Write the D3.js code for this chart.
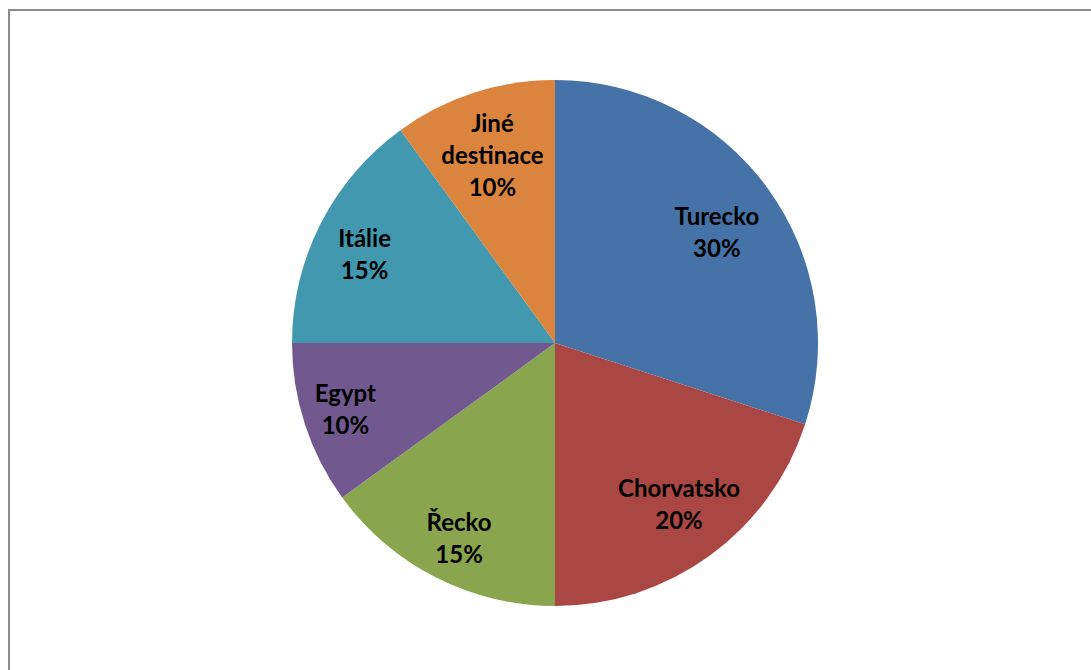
<!DOCTYPE html>
<html>
<head>
<meta charset="utf-8">
<script src="https://cdn.jsdelivr.net/npm/d3@7"></script>
<style>
  body { margin: 0; background: #fff; }
  svg text { font-family: Lato, "Open Sans", sans-serif; font-weight: bold; }
</style>
</head>
<body>
<div id="chart"></div>
<script>
(function () {
  const width = 1091, height = 670;

  // data
  const destinations = ["Turecko", "Chorvatsko", "Řecko", "Egypt", "Itálie", "Jiné destinace"];
  const shares = [30, 20, 15, 10, 15, 10];
  const colors = ["#4572A7", "#AA4643", "#89A54E", "#71588F", "#4198AF", "#DB843D"];

  const cx = 555, cy = 343, radius = 263;

  const svg = d3.select("#chart")
    .append("svg")
    .attr("width", width)
    .attr("height", height);

  // chart frame (runs past the page on right and bottom)
  svg.append("rect")
    .attr("x", 9)
    .attr("y", 10)
    .attr("width", width + 20)
    .attr("height", height + 20)
    .attr("fill", "none")
    .attr("stroke", "#8c8c8c")
    .attr("stroke-width", 2);

  const data = destinations.map((d, i) => ({ name: d, value: shares[i], color: colors[i] }));

  const pie = d3.pie().sort(null).value(d => d.value);
  const arc = d3.arc().innerRadius(0).outerRadius(radius);
  const labelArc = d3.arc().innerRadius(radius * 0.77).outerRadius(radius * 0.77);

  const g = svg.append("g").attr("transform", "translate(" + cx + "," + cy + ")");

  const arcs = pie(data);

  g.selectAll("path")
    .data(arcs)
    .join("path")
    .attr("d", arc)
    .attr("fill", d => d.data.color);

  // excel "best fit" nudges
  const nudge = {
    "Turecko": [-2, 9],
    "Chorvatsko": [5, -2],
    "Řecko": [-4, 15],
    "Egypt": [-17, 4],
    "Itálie": [-10, 4],
    "Jiné destinace": [0, 5]
  };

  const lineH = 32;
  const labels = g.selectAll("g.label")
    .data(arcs)
    .join("g")
    .attr("class", "label")
    .attr("transform", d => {
      const c = labelArc.centroid(d);
      const n = nudge[d.data.name] || [0, 0];
      return "translate(" + (c[0] + n[0]) + "," + (c[1] + n[1]) + ")";
    });

  labels.each(function (d) {
    const words = d.data.name.split(" ");
    const lines = words.concat([d.data.value + "%"]);
    const top = -(lines.length - 1) * lineH / 2;
    d3.select(this).selectAll("text")
      .data(lines)
      .join("text")
      .attr("text-anchor", "middle")
      .attr("dy", "0.35em")
      .attr("y", (t, i) => top + i * lineH)
      .attr("font-size", 24)
      .attr("fill", "#000")
      .text(t => t);
  });
})();
</script>
</body>
</html>
